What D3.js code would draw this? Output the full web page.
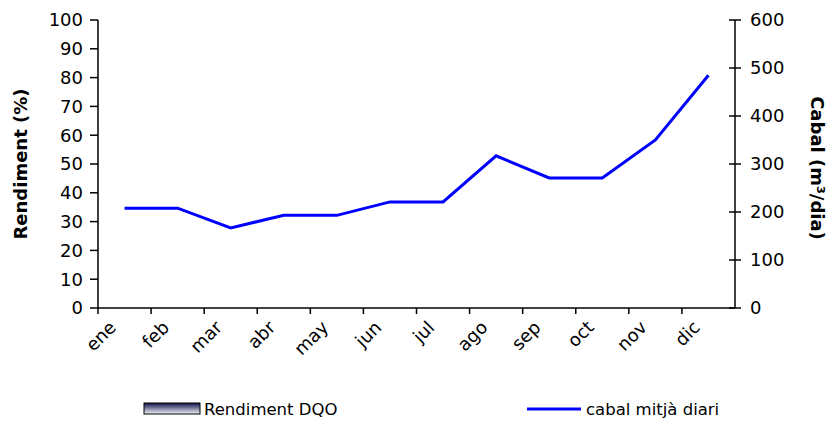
<!DOCTYPE html>
<html lang="ca">
<head>
<meta charset="UTF-8">
<title>Rendiment DQO i cabal</title>
<script src="https://cdnjs.cloudflare.com/ajax/libs/d3/7.8.5/d3.min.js"></script>
<style>
    body { margin: 0; background: #fff; }
    svg { display: block; font-family: 'DejaVu Sans', Verdana, sans-serif; }
    .tick-label { font-size: 18px; fill: #000; }
    .month-label { font-size: 18px; fill: #000; }
    .axis-title { font-size: 18px; font-weight: bold; fill: #000; }
    .legend-text { font-size: 16.5px; fill: #000; }
</style>
</head>
<body>
<svg id="chart" width="830" height="425"></svg>
<script>
    // data
    const months = ['ene', 'feb', 'mar', 'abr', 'may', 'jun', 'jul', 'ago', 'sep', 'oct', 'nov', 'dic'];
    const rendimentDQO = [];   // no bars visible in the chart
    const cabal = [208, 208, 167, 193, 193, 221, 221, 317, 271, 271, 350, 485];
    const leftTicks = [0, 10, 20, 30, 40, 50, 60, 70, 80, 90, 100];
    const rightTicks = [0, 100, 200, 300, 400, 500, 600];

    const svg = d3.select('#chart');
    const plotL = 98, plotR = 735, plotT = 20, plotB = 308;

    const x = d3.scaleBand().domain(months).range([plotL, plotR]);
    const yLeft = d3.scaleLinear().domain([0, 100]).range([plotB, plotT]);
    const yRight = d3.scaleLinear().domain([0, 600]).range([plotB, plotT]);

    // gradient for the bar legend swatch
    const grad = svg.append('defs').append('linearGradient')
        .attr('id', 'barGrad').attr('x1', 0).attr('y1', 0).attr('x2', 0).attr('y2', 1);
    grad.append('stop').attr('offset', '0%').attr('stop-color', '#10104a');
    grad.append('stop').attr('offset', '100%').attr('stop-color', '#f4f4fa');

    // bars (empty series)
    svg.selectAll('rect.bar').data(rendimentDQO).enter().append('rect')
        .attr('class', 'bar')
        .attr('x', (d, i) => x(months[i]) + x.bandwidth() * 0.2)
        .attr('width', x.bandwidth() * 0.6)
        .attr('y', d => yLeft(d))
        .attr('height', d => plotB - yLeft(d))
        .attr('fill', 'url(#barGrad)').attr('stroke', '#000');

    // left axis
    const gl = svg.append('g');
    gl.append('line').attr('x1', plotL).attr('x2', plotL).attr('y1', plotT).attr('y2', plotB)
        .attr('stroke', '#000').attr('stroke-width', 1.5);
    leftTicks.forEach(t => {
        gl.append('line').attr('x1', plotL - 8).attr('x2', plotL).attr('y1', yLeft(t)).attr('y2', yLeft(t))
            .attr('stroke', '#000').attr('stroke-width', 1.5);
        gl.append('text').attr('class', 'tick-label').attr('x', plotL - 15).attr('y', yLeft(t))
            .attr('dy', '0.36em').attr('text-anchor', 'end').text(t);
    });

    // right axis
    const gr = svg.append('g');
    gr.append('line').attr('x1', plotR).attr('x2', plotR).attr('y1', plotT).attr('y2', plotB)
        .attr('stroke', '#000').attr('stroke-width', 1.5);
    rightTicks.forEach(t => {
        gr.append('line').attr('x1', plotR - 6).attr('x2', plotR + 6).attr('y1', yRight(t)).attr('y2', yRight(t))
            .attr('stroke', '#000').attr('stroke-width', 1.5);
        gr.append('text').attr('class', 'tick-label').attr('x', plotR + 15).attr('y', yRight(t))
            .attr('dy', '0.36em').attr('text-anchor', 'start').text(t);
    });

    // x axis
    const gx = svg.append('g');
    gx.append('line').attr('x1', plotL).attr('x2', plotR).attr('y1', plotB).attr('y2', plotB)
        .attr('stroke', '#000').attr('stroke-width', 1.5);
    months.forEach(m => {
        gx.append('line').attr('x1', x(m)).attr('x2', x(m)).attr('y1', plotB).attr('y2', plotB + 6)
            .attr('stroke', '#000').attr('stroke-width', 1.5);
        const cx = x(m) + x.bandwidth() / 2;
        gx.append('text').attr('class', 'month-label')
            .attr('transform', `translate(${cx - 12},${plotB + 16}) rotate(-45)`)
            .attr('text-anchor', 'end').attr('dy', '0.36em').text(m);
    });

    // cabal line
    const line = d3.line()
        .x((d, i) => x(months[i]) + x.bandwidth() / 2)
        .y(d => yRight(d));
    svg.append('path').datum(cabal).attr('d', line)
        .attr('fill', 'none').attr('stroke', '#0000ff').attr('stroke-width', 3);

    // axis titles
    svg.append('text').attr('class', 'axis-title')
        .attr('transform', `translate(27,${(plotT + plotB) / 2}) rotate(-90)`)
        .attr('text-anchor', 'middle').text('Rendiment (%)');
    svg.append('text').attr('class', 'axis-title')
        .attr('transform', `translate(811,${(plotT + plotB) / 2 + 4}) rotate(90)`)
        .attr('text-anchor', 'middle').text('Cabal (m³/dia)');

    // legend
    const lg = svg.append('g');
    lg.append('rect').attr('x', 144).attr('y', 403).attr('width', 56).attr('height', 11)
        .attr('fill', 'url(#barGrad)').attr('stroke', '#000').attr('stroke-width', 1);
    lg.append('text').attr('class', 'legend-text').attr('x', 204).attr('y', 409)
        .attr('dy', '0.36em').text('Rendiment DQO');
    lg.append('line').attr('x1', 527).attr('x2', 581).attr('y1', 409).attr('y2', 409)
        .attr('stroke', '#0000ff').attr('stroke-width', 3);
    lg.append('text').attr('class', 'legend-text').attr('x', 586).attr('y', 409)
        .attr('dy', '0.36em').text('cabal mitjà diari');
</script>
</body>
</html>
